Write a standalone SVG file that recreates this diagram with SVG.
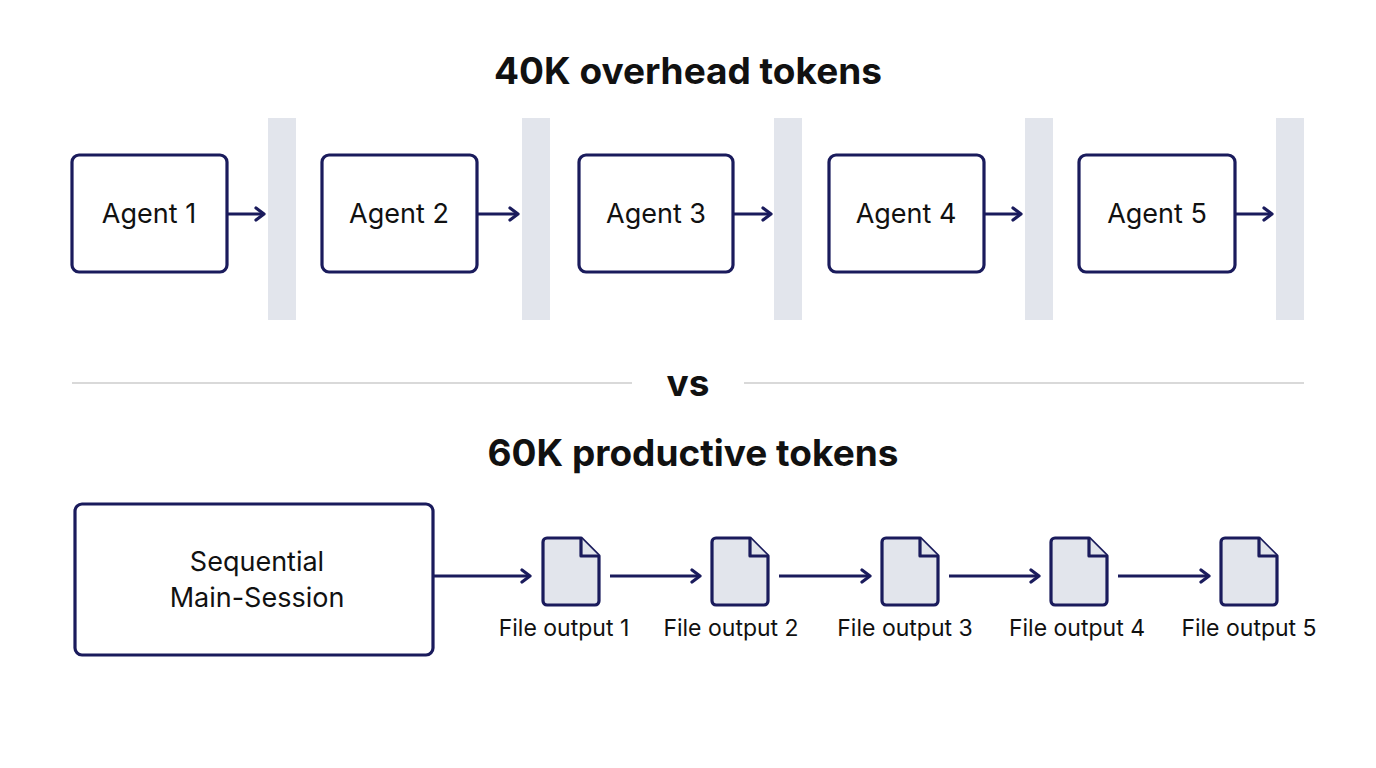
<svg xmlns="http://www.w3.org/2000/svg" width="1376" height="768" viewBox="0 0 1376 768">
<style>
.box{fill:#fff;stroke:#1a1b5c;stroke-width:3.2}
.bar{fill:#e2e5ec}
.t{font-family:Inter,"Noto Sans",sans-serif;fill:#111;text-anchor:middle}
.h{font-size:37px;font-weight:700}
.l{font-size:27px}
.f{font-size:23px}
.c{stroke:#1a1b5c;stroke-width:3.2;fill:none}
.doc{fill:#e2e5ec;stroke:#1a1b5c;stroke-width:3.2;stroke-linejoin:round}
</style>
<defs>
<marker id="a" viewBox="0 0 12 16" refX="10" refY="8" markerWidth="12" markerHeight="16" markerUnits="userSpaceOnUse" orient="auto"><path d="M2 2 L10 8 L2 14" fill="none" stroke="#1a1b5c" stroke-width="3.2" stroke-linecap="round" stroke-linejoin="round"/></marker>
</defs>
<rect width="1376" height="768" fill="#fff"/>
<text class="t h" x="688" y="84">40K overhead tokens</text>
<text class="t h" x="688" y="396">vs</text>
<text class="t h" x="693" y="466">60K productive tokens</text>
<line x1="72" y1="383" x2="632" y2="383" stroke="#ccc" stroke-width="1.5"/>
<line x1="744" y1="383" x2="1304" y2="383" stroke="#ccc" stroke-width="1.5"/>
<g id="bars">
<rect class="bar" x="268" y="118" width="28" height="202"/>
<rect class="bar" x="522" y="118" width="28" height="202"/>
<rect class="bar" x="774" y="118" width="28" height="202"/>
<rect class="bar" x="1025" y="118" width="28" height="202"/>
<rect class="bar" x="1276" y="118" width="28" height="202"/>
</g>
<g id="agent1"><rect class="box" x="72" y="155" width="155" height="117" rx="7"/><text class="t l" x="149" y="223">Agent 1</text></g>
<g id="agent2"><rect class="box" x="322" y="155" width="155" height="117" rx="7"/><text class="t l" x="399" y="223">Agent 2</text></g>
<g id="agent3"><rect class="box" x="579" y="155" width="154" height="117" rx="7"/><text class="t l" x="656" y="223">Agent 3</text></g>
<g id="agent4"><rect class="box" x="829" y="155" width="155" height="117" rx="7"/><text class="t l" x="906" y="223">Agent 4</text></g>
<g id="agent5"><rect class="box" x="1079" y="155" width="156" height="117" rx="7"/><text class="t l" x="1157" y="223">Agent 5</text></g>
<g id="main"><rect class="box" x="75" y="504" width="358" height="151" rx="7"/><text class="t l" x="257" y="571">Sequential</text><text class="t l" x="257" y="607">Main-Session</text></g>
<g id="file1"><path class="doc" d="M547 538 H581 L599 556 V601 a4 4 0 0 1 -4 4 H547 a4 4 0 0 1 -4 -4 V542 a4 4 0 0 1 4 -4 Z"/><path class="doc" d="M581 538 V556 H599"/><text class="t f" x="564" y="636">File output 1</text></g>
<g id="file2"><path class="doc" d="M716 538 H750 L768 556 V601 a4 4 0 0 1 -4 4 H716 a4 4 0 0 1 -4 -4 V542 a4 4 0 0 1 4 -4 Z"/><path class="doc" d="M750 538 V556 H768"/><text class="t f" x="731" y="636">File output 2</text></g>
<g id="file3"><path class="doc" d="M886 538 H920 L938 556 V601 a4 4 0 0 1 -4 4 H886 a4 4 0 0 1 -4 -4 V542 a4 4 0 0 1 4 -4 Z"/><path class="doc" d="M920 538 V556 H938"/><text class="t f" x="905" y="636">File output 3</text></g>
<g id="file4"><path class="doc" d="M1055 538 H1089 L1107 556 V601 a4 4 0 0 1 -4 4 H1055 a4 4 0 0 1 -4 -4 V542 a4 4 0 0 1 4 -4 Z"/><path class="doc" d="M1089 538 V556 H1107"/><text class="t f" x="1077" y="636">File output 4</text></g>
<g id="file5"><path class="doc" d="M1225 538 H1259 L1277 556 V601 a4 4 0 0 1 -4 4 H1225 a4 4 0 0 1 -4 -4 V542 a4 4 0 0 1 4 -4 Z"/><path class="doc" d="M1259 538 V556 H1277"/><text class="t f" x="1249" y="636">File output 5</text></g>
<g id="connectors">
<line class="c" x1="227" y1="214" x2="264" y2="214" marker-end="url(#a)"/>
<line class="c" x1="477" y1="214" x2="518" y2="214" marker-end="url(#a)"/>
<line class="c" x1="733" y1="214" x2="771" y2="214" marker-end="url(#a)"/>
<line class="c" x1="984" y1="214" x2="1021" y2="214" marker-end="url(#a)"/>
<line class="c" x1="1235" y1="214" x2="1272" y2="214" marker-end="url(#a)"/>
<line class="c" x1="433" y1="576" x2="530" y2="576" marker-end="url(#a)"/>
<line class="c" x1="610" y1="576" x2="700" y2="576" marker-end="url(#a)"/>
<line class="c" x1="779" y1="576" x2="870" y2="576" marker-end="url(#a)"/>
<line class="c" x1="949" y1="576" x2="1039" y2="576" marker-end="url(#a)"/>
<line class="c" x1="1118" y1="576" x2="1209" y2="576" marker-end="url(#a)"/>
</g>
</svg>
